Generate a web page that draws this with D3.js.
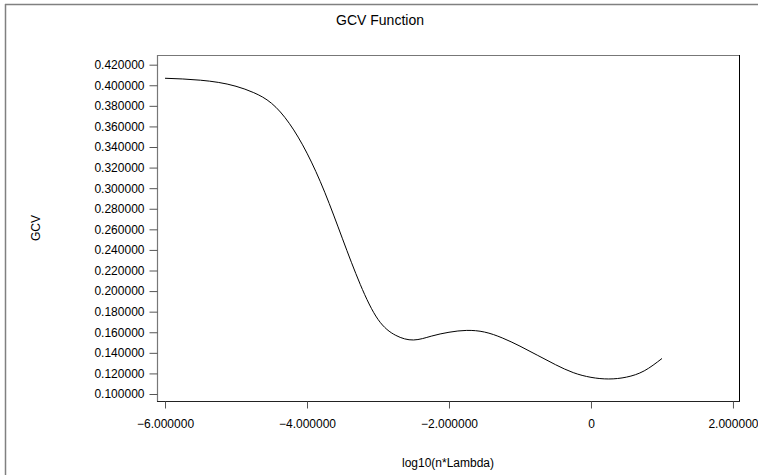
<!DOCTYPE html>
<html>
<head>
<meta charset="utf-8">
<script src="https://cdn.jsdelivr.net/npm/d3@7"></script>
<style>
  html, body { margin: 0; padding: 0; background: #fff; }
  svg { display: block; font-family: "Liberation Sans", Arial, Helvetica, sans-serif; }
</style>
</head>
<body>
<svg id="chart" width="758" height="475"></svg>
<script>
// ---- Data ----
const logLambda = [-6, -5.75, -5.5, -5.25, -5, -4.75, -4.5, -4.25, -4, -3.75, -3.5, -3.25, -3, -2.75, -2.5, -2.25, -2, -1.75, -1.5, -1.25, -1, -0.75, -0.5, -0.25, 0, 0.25, 0.5, 0.75, 1.0];
const gcvValues = [0.4068, 0.4061, 0.4049, 0.4028, 0.3990, 0.3928, 0.3825, 0.3630, 0.3340, 0.2960, 0.2508, 0.2065, 0.1725, 0.1570, 0.1525, 0.1562, 0.1600, 0.1618, 0.1602, 0.1545, 0.1465, 0.1375, 0.1285, 0.1208, 0.1162, 0.1146, 0.1164, 0.1225, 0.1345];
const xTicks = [-6, -4, -2, 0, 2];
const xTickLabels = ["\u22126.000000", "\u22124.000000", "\u22122.000000", "0", "2.000000"];
const yTicks = [0.10, 0.12, 0.14, 0.16, 0.18, 0.20, 0.22, 0.24, 0.26, 0.28, 0.30, 0.32, 0.34, 0.36, 0.38, 0.40, 0.42];
const titleText = "GCV Function";
const xTitle = "log10(n*Lambda)";
const yTitle = "GCV";

// ---- Layout ----
const svg = d3.select("#chart");
const plot = { left: 157, right: 739, top: 55, bottom: 401 };

const x = d3.scaleLinear().domain([-6.113, 2.085]).range([plot.left, plot.right]);
const y = d3.scaleLinear().domain([0.0932, 0.4294]).range([plot.bottom, plot.top]);

// Outer frame (top and left edges)
svg.append("line").attr("x1", 5).attr("x2", 758).attr("y1", 4.5).attr("y2", 4.5)
  .attr("stroke", "#808080").attr("stroke-width", 1.5);
svg.append("line").attr("x1", 5.5).attr("x2", 5.5).attr("y1", 4).attr("y2", 475)
  .attr("stroke", "#808080").attr("stroke-width", 1.5);

// Title
svg.append("text").attr("x", 380).attr("y", 25).attr("text-anchor", "middle")
  .attr("font-size", 14).attr("fill", "#000").text(titleText);

// Plot frame
svg.append("line").attr("x1", plot.left).attr("x2", plot.right).attr("y1", plot.top + 0.5).attr("y2", plot.top + 0.5)
  .attr("stroke", "#777").attr("stroke-width", 1.2);
svg.append("line").attr("x1", plot.right + 0.5).attr("x2", plot.right + 0.5).attr("y1", plot.top).attr("y2", plot.bottom)
  .attr("stroke", "#000").attr("stroke-width", 1);

// Y axis
const yAxis = d3.axisLeft(y).tickValues(yTicks).tickFormat(d3.format(".6f")).tickSize(8).tickSizeOuter(0);
const gy = svg.append("g").attr("transform", `translate(${plot.left + 0.5},0)`).call(yAxis);
gy.select(".domain").attr("stroke", "#777").attr("stroke-width", 1.2)
  .attr("d", `M0,${plot.top}V${plot.bottom + 0.5}`);
gy.selectAll(".tick line").attr("stroke", "#555");
gy.selectAll(".tick text").attr("font-size", 12).attr("fill", "#000")
  .attr("font-family", "Liberation Sans, Arial, sans-serif").attr("x", -13);

// X axis
const xAxis = d3.axisBottom(x).tickValues(xTicks).tickFormat((d, i) => xTickLabels[i]).tickSize(7).tickSizeOuter(0);
const gx = svg.append("g").attr("transform", `translate(0,${plot.bottom + 0.5})`).call(xAxis);
gx.select(".domain").attr("stroke", "#222").attr("stroke-width", 1)
  .attr("d", `M${plot.left},0H${plot.right + 1}`);
gx.selectAll(".tick line").attr("stroke", "#555");
gx.selectAll(".tick text").attr("font-size", 12).attr("fill", "#000")
  .attr("font-family", "Liberation Sans, Arial, sans-serif").attr("y", 18);

// Axis titles
svg.append("text").attr("x", (plot.left + plot.right) / 2).attr("y", 467).attr("text-anchor", "middle")
  .attr("font-size", 12).attr("fill", "#000").text(xTitle);
svg.append("text").attr("transform", `translate(40,${(plot.top + plot.bottom) / 2}) rotate(-90)`)
  .attr("text-anchor", "middle").attr("font-size", 12).attr("fill", "#000").text(yTitle);

// Curve
const pts = logLambda.map((v, i) => [v, gcvValues[i]]);
const line = d3.line().x(d => x(d[0])).y(d => y(d[1])).curve(d3.curveNatural);
svg.append("path").datum(pts).attr("d", line).attr("fill", "none")
  .attr("stroke", "#000").attr("stroke-width", 1);
</script>
</body>
</html>
